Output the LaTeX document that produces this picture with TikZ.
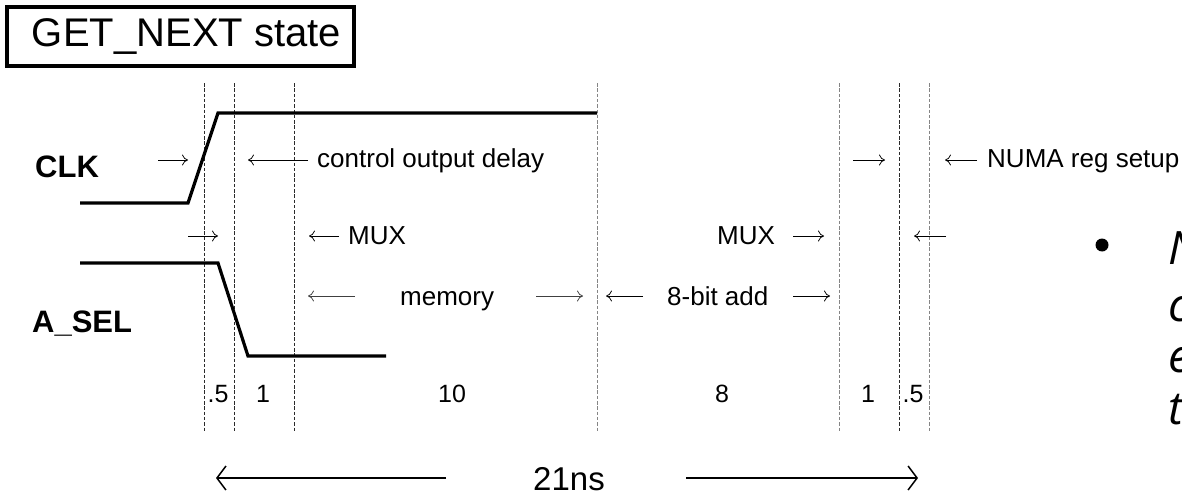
\documentclass[tikz,border=0pt]{standalone}
\usepackage{fontspec}
\setmainfont{Liberation Sans}
\newfontfamily\notefont{Open Sans}
\usepackage{xcolor}
\usepackage{tikz}
\usetikzlibrary{arrows.meta,positioning}
\definecolor{MarkDark}{HTML}{2A2A2A}
\definecolor{MarkLight}{HTML}{858585}
\tikzset{
  titlebox/.style={draw, line width=3.5pt, outer sep=0pt, anchor=north west,
    minimum width=347pt, minimum height=59pt, inner xsep=12pt,
    font=\fontsize{40}{46}\selectfont},
  signame/.style={anchor=base west, inner sep=0pt, font=\fontsize{31}{36}\selectfont\bfseries},
  wave/.style={line width=3.2pt, line join=miter},
  timemark/.style={line width=0.9pt, dash pattern=on 3.5pt off 1.8pt},
  darkmark/.style={timemark, draw=MarkDark},
  lightmark/.style={timemark, draw=MarkLight},
  delaylabel/.style={anchor=base west, inner sep=0pt, font=\fontsize{26}{30}\selectfont},
  delaywire/.style={-{Computer Modern Rightarrow[length=6pt,width=11pt]}, line width=0.75pt},
  spanwire/.style={-{Straight Barb[length=9pt,width=24pt,line width=1.5pt]}, line width=2.6pt},
  slotnum/.style={anchor=base, inner sep=0pt, font=\fontsize{25}{29}\selectfont},
  totallabel/.style={anchor=base, inner sep=0pt, font=\fontsize{33}{38}\selectfont},
  bullettext/.style={anchor=base west, inner sep=0pt, font=\notefont\itshape\fontsize{46}{52}\selectfont}
}

\begin{document}
\begin{tikzpicture}[x=1pt, y=-1pt]
  \useasboundingbox (0,0) rectangle (1182,495);
  \node[titlebox] (title) at (7,7) {\makebox[323pt][l]{\hspace*{13pt}GET\_NEXT state}};

  % time marks
  \foreach \x in {204,234,294,899}
    \draw[darkmark] (\x,83) -- (\x,432);
  \foreach \x in {597,839,929}
    \draw[lightmark] (\x,83) -- (\x,432);

  % signals
  \node[signame] (clk) at (35,177) {CLK};
  \node[signame] (asel) at (32,332) {A\_SEL};
  \draw[wave] (80,203) -- (188,203) -- (218,113) -- (597,113);
  \draw[wave] (80,263) -- (218,263) -- (248,356) -- (386,356);

  % first row: control output delay, reg setup
  \coordinate (r1a) at (158,160);
  \coordinate (r1b) at (188,160);
  \coordinate (r1c) at (308,160);
  \coordinate (r1d) at (248,160);
  \node[delaylabel] (ctrl) at (317,167) {control output delay};
  \coordinate (r1e) at (853,160);
  \coordinate (r1f) at (885,160);
  \coordinate (r1g) at (977,160);
  \coordinate (r1h) at (945,160);
  \node[delaylabel] (setup) at (987,167) {NUMA reg setup};
  \draw[delaywire] (r1a) -- (r1b);
  \draw[delaywire] (r1c) -- (r1d);
  \draw[delaywire] (r1e) -- (r1f);
  \draw[delaywire] (r1g) -- (r1h);

  % second row: the two MUX delays
  \coordinate (r2a) at (188,236);
  \coordinate (r2b) at (218,236);
  \coordinate (r2c) at (339,236);
  \coordinate (r2d) at (309,236);
  \node[delaylabel] (muxin) at (348,244) {MUX};
  \node[delaylabel] (muxout) at (717,244) {MUX};
  \coordinate (r2e) at (793,236);
  \coordinate (r2f) at (824,236);
  \coordinate (r2g) at (946,236);
  \coordinate (r2h) at (914,236);
  \draw[delaywire] (r2a) -- (r2b);
  \draw[delaywire] (r2c) -- (r2d);
  \draw[delaywire] (r2e) -- (r2f);
  \draw[delaywire] (r2g) -- (r2h);

  % third row: memory and adder
  \coordinate (r3a) at (355,296);
  \coordinate (r3b) at (308,296);
  \node[delaylabel] (mem) at (400,305) {memory};
  \coordinate (r3c) at (536,296);
  \coordinate (r3d) at (583,296);
  \coordinate (r3e) at (643,296);
  \coordinate (r3f) at (606,296);
  \node[delaylabel] (adder) at (667,305) {8-bit add};
  \coordinate (r3g) at (793,296);
  \coordinate (r3h) at (830,296);
  \draw[delaywire, draw=black!75] (r3a) -- (r3b);
  \draw[delaywire, draw=black!75] (r3c) -- (r3d);
  \draw[delaywire] (r3e) -- (r3f);
  \draw[delaywire] (r3g) -- (r3h);

  % slot lengths
  \node[slotnum] (s1) at (218,402) {.5};
  \node[slotnum] (s2) at (263,402) {1};
  \node[slotnum] (s3) at (452,402) {10};
  \node[slotnum] (s4) at (722,402) {8};
  \node[slotnum] (s5) at (868,402) {1};
  \node[slotnum] (s6) at (913,402) {.5};

  % whole cycle
  \node[totallabel] (total) at (569,490) {21ns};
  \coordinate (spanL) at (446,478);
  \coordinate (spanLend) at (216,478);
  \coordinate (spanR) at (686,478);
  \coordinate (spanRend) at (918,478);
  \draw[spanwire] (spanL) -- (spanLend);
  \draw[spanwire] (spanR) -- (spanRend);

  % bullet cut at the right edge
  \begin{scope}
    \clip (0,0) rectangle (1182,495);
    \node[circle, fill, inner sep=0pt, minimum size=13pt] (dot) at (1102,245) {};
    \node[bullettext] (line1) at (1168,264) {N};
    \node[bullettext] (line2) at (1168,321) {c};
    \node[bullettext] (line3) at (1168,372) {e};
    \node[bullettext] (line4) at (1168,424) {th};
  \end{scope}
\end{tikzpicture}
\end{document}
